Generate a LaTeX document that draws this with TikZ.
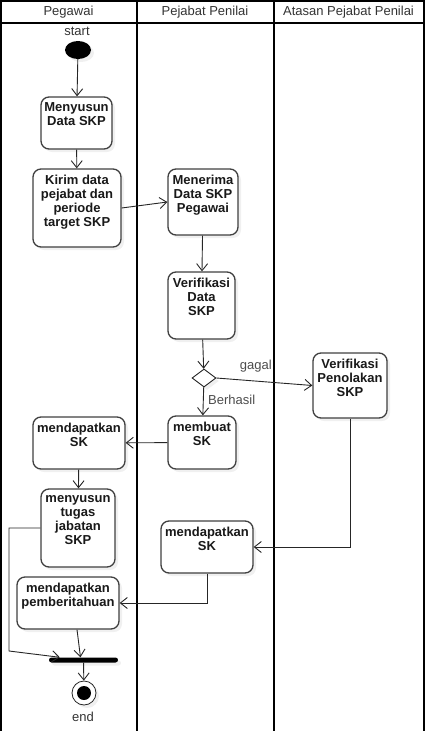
\documentclass[tikz,border=0pt]{standalone}
\usepackage{fontspec}
\setmainfont{Liberation Sans}
\usetikzlibrary{arrows.meta,shapes.geometric,shadows}

% text of an activity: fixed box, text at the top
\newcommand{\actbox}[3]{\parbox[c][#2pt][t]{#1pt}{\centering\vskip6pt #3\par}}

\begin{document}
\begin{tikzpicture}[x=1pt, y=-1pt,
    act/.style={draw=black!75, line width=1.3pt, rounded corners=8pt, fill=white, inner sep=0pt,
        font=\bfseries\fontsize{13}{14}\selectfont, text=black!90,
        drop shadow={shadow xshift=3pt, shadow yshift=-3pt, opacity=0.12}},
    flow/.style={-{Straight Barb[length=7pt,width=11pt]}, draw=black!85, line width=0.9pt},
    lane/.style={line width=2pt},
    head/.style={font=\fontsize{13}{13}\selectfont, text=black!80},
    guard/.style={font=\fontsize{13}{13}\selectfont, text=black!70, inner sep=1pt}]
    \useasboundingbox (0,0) rectangle (425,731);

    % Swimlanes
    \draw[lane] (1,731) -- (1,1) -- (423.5,1) -- (423.5,731);
    \draw[lane] (136.5,1) -- (136.5,731);
    \draw[lane] (273.5,1) -- (273.5,731);
    \draw[lane] (1,22.5) -- (423.5,22.5);
    \node[head] (lanePeg) at (68.5,12) {Pegawai};
    \node[head] (lanePen) at (205,12) {Pejabat Penilai};
    \node[head] (laneAts) at (348.5,12) {Atasan Pejabat Penilai};

    % Start
    \node[ellipse, fill=black, minimum width=26pt, minimum height=18pt, inner sep=0pt,
        drop shadow={shadow xshift=3pt, shadow yshift=-3pt, opacity=0.12}] (start) at (78,50) {};
    \node[head, anchor=south] (startLbl) at (77,39) {start};

    % Activities
    \node[act] (menyusun) at (76.5,123) {\actbox{71}{52}{Menyusun\\Data SKP}};
    \node[act] (kirim) at (77,208) {\actbox{88}{78}{Kirim data\\pejabat dan\\periode\\target SKP}};
    \node[act] (menerima) at (203,202) {\actbox{70}{66}{Menerima\\Data SKP\\Pegawai}};
    \node[act] (verifikasi) at (201.5,305.5) {\actbox{67}{67}{Verifikasi\\Data\\SKP}};
    \node[diamond, draw=black!85, line width=0.9pt, fill=white, minimum width=24pt, minimum height=18pt,
        inner sep=0pt, drop shadow={shadow xshift=3pt, shadow yshift=-3pt, opacity=0.12}] (cek) at (204,378) {};
    \node[act] (penolakan) at (350,385.5) {\actbox{74}{65}{Verifikasi\\Penolakan\\SKP}};
    \node[act] (membuat) at (202,442.5) {\actbox{68}{53}{membuat\\SK}};
    \node[act] (skPeg) at (79,443) {\actbox{92}{52}{mendapatkan\\SK}};
    \node[act] (tugas) at (78,528) {\actbox{74}{78}{menyusun\\tugas\\jabatan\\SKP}};
    \node[act] (skPen) at (207,547) {\actbox{92}{52}{mendapatkan\\SK}};
    \node[act] (pemberitahuan) at (68,603) {\actbox{102}{52}{mendapatkan\\pemberitahuan}};

    % Join bar and end
    \node[fill=black, minimum width=69pt, minimum height=5pt, inner sep=0pt, rounded corners=2.5pt,
        drop shadow={shadow xshift=3pt, shadow yshift=-3pt, opacity=0.12}] (bar) at (83.5,660) {};
    \node[circle, draw=black!85, line width=0.8pt, fill=white, minimum size=24pt, inner sep=0pt,
        path picture={\fill[black] (path picture bounding box.center) circle (7pt);},
        drop shadow={shadow xshift=3pt, shadow yshift=-3pt, opacity=0.12}] (end) at (84,693) {};
    \node[head, anchor=north] (endLbl) at (83,709) {end};

    % Flows
    \draw[flow] (start) -- (menyusun);
    \draw[flow] (menyusun) -- (kirim);
    \draw[flow] (kirim.east) -- (menerima.west);
    \draw[flow] (menerima) -- (verifikasi);
    \draw[flow] (verifikasi) -- (cek);
    \draw[flow] (cek.east) -- (penolakan.west);
    \node[guard, anchor=south east] (gagal) at (273,373) {gagal};
    \draw[flow] (cek) -- (membuat);
    \node[guard, anchor=west] (berhasil) at (207,400) {Berhasil};
    \draw[flow] (membuat) -- (skPeg);
    \draw[flow] (skPeg) -- (tugas);
    \draw[flow] (penolakan.south) |- (skPen.east);
    \draw[flow] (skPen.south) |- (pemberitahuan.east);
    \coordinate (belok) at (9,651);
    \draw[flow] (tugas.west) -| (belok) -- ([xshift=11pt]bar.north west);
    \draw[flow] ([xshift=9pt]pemberitahuan.south) -- ([xshift=-3pt]bar.north);
    \draw[flow] (bar) -- (end);
\end{tikzpicture}
\end{document}
